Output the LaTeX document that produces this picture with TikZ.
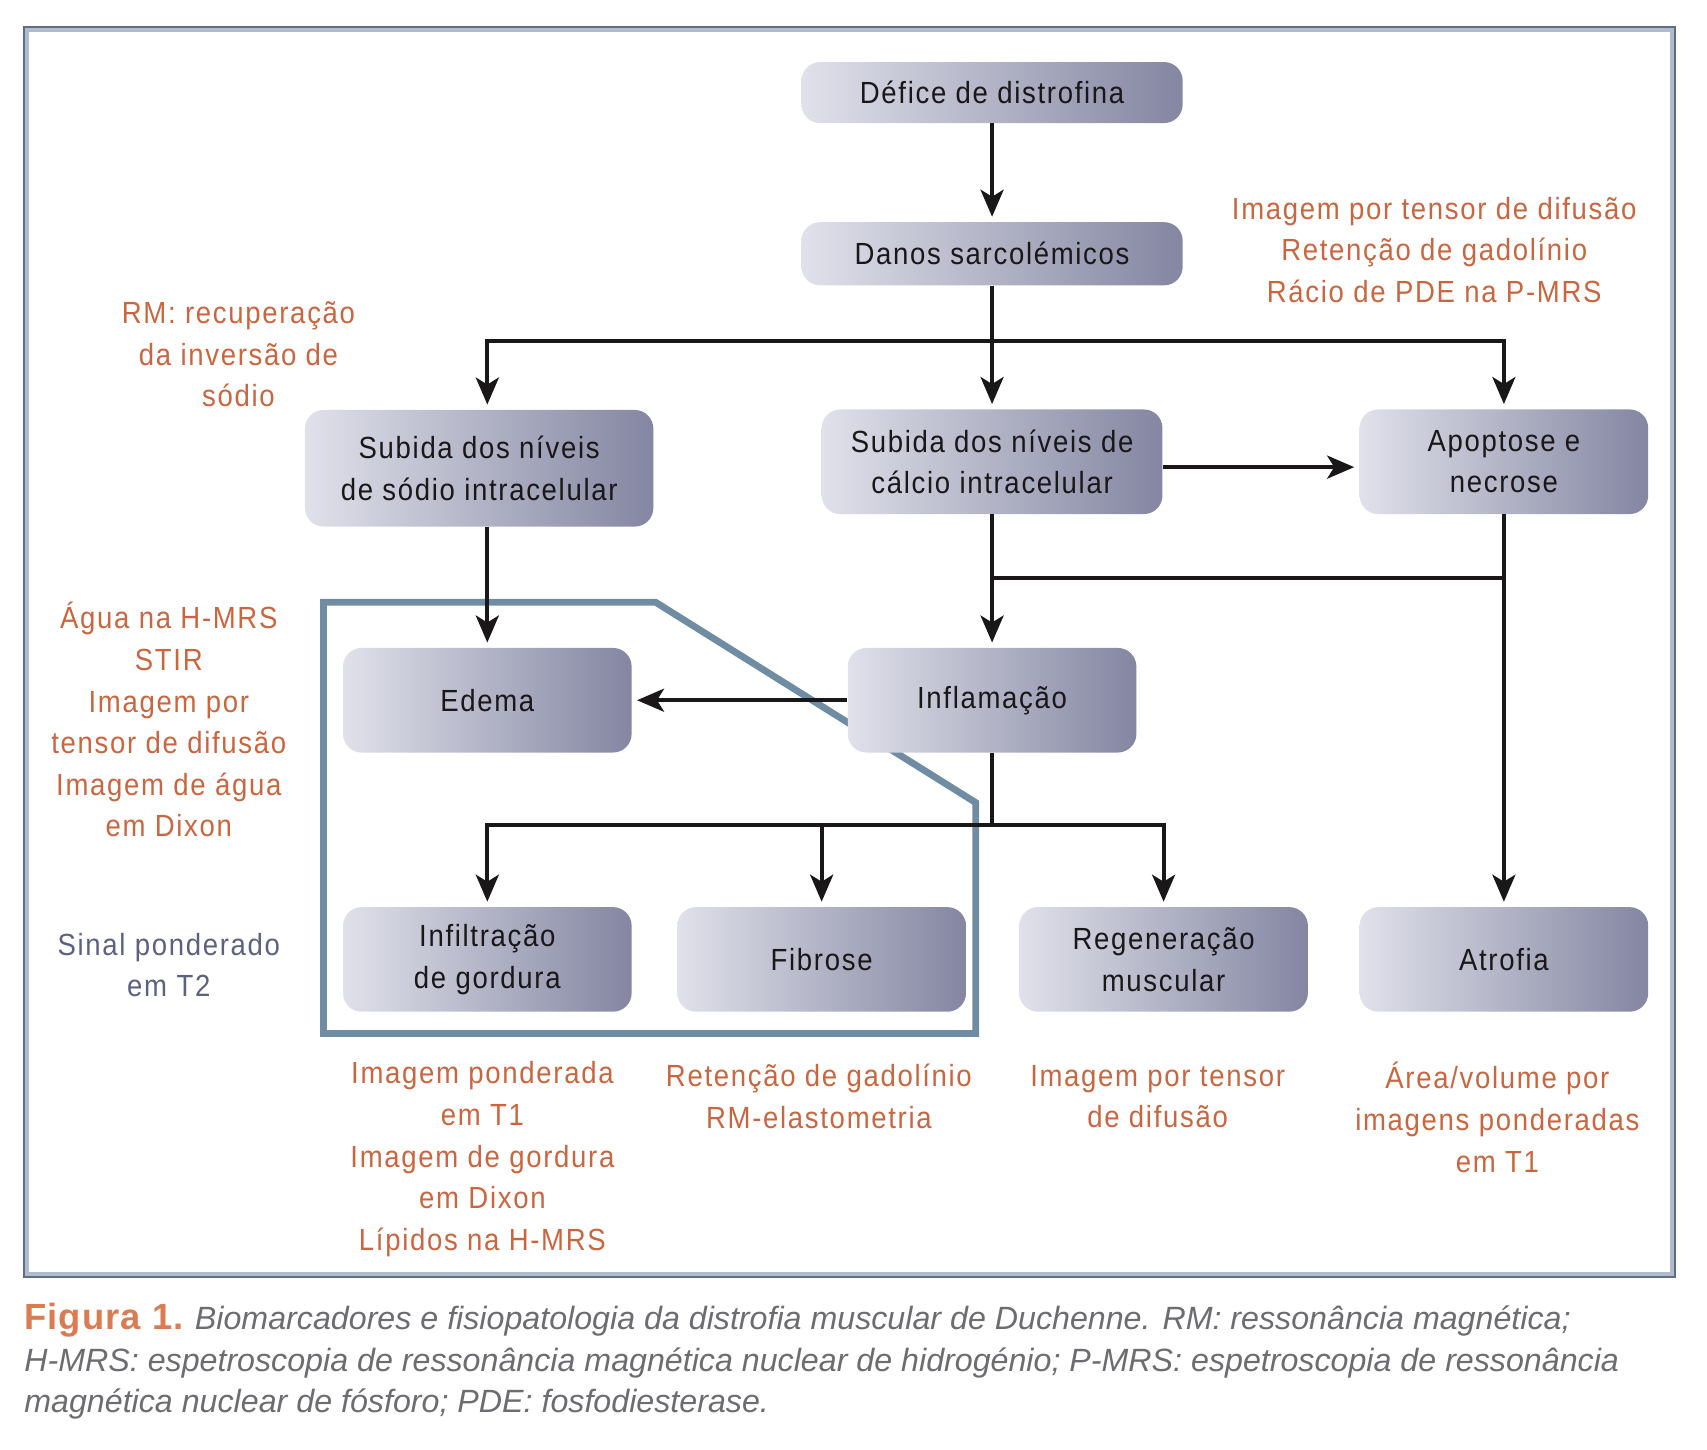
\documentclass[tikz,border=0pt]{standalone}
\usepackage{fontspec}
\setmainfont{Liberation Sans}[FakeStretch=0.9,LetterSpace=5.5]
\newfontfamily\capfont{Liberation Sans}
\usetikzlibrary{arrows.meta}
\definecolor{boxL}{RGB}{224,225,234}
\definecolor{boxR}{RGB}{132,134,162}
\definecolor{orng}{RGB}{201,102,63}
\definecolor{slate}{RGB}{91,97,128}
\definecolor{steel}{RGB}{111,140,163}
\definecolor{ink}{RGB}{26,23,24}
\definecolor{capgray}{RGB}{108,108,113}
\definecolor{figor}{RGB}{219,123,82}
\definecolor{frameD}{RGB}{95,110,133}
\definecolor{frameL}{RGB}{176,188,204}
\begin{document}
\begin{tikzpicture}[x=0.5445pt,y=-0.5445pt,
  box/.style={rounded corners=9.3pt, inner sep=0pt, left color=boxL, right color=boxR,
    align=center, text=ink, font=\fontsize{15.3}{20.8}\selectfont,
    minimum width=144.3pt, minimum height=52.3pt},
  lab/.style={align=center, text=orng, font=\fontsize{15.3}{20.8}\selectfont, inner sep=0pt},
  arr/.style={draw=ink, line width=2pt, -{Stealth[length=13.5pt,width=11.5pt,inset=3.5pt]}, shorten >=2.5pt},
  ln/.style={draw=ink, line width=2pt},
  capline/.style={anchor=base west, inner sep=0pt, text=capgray, font=\capfont\fontsize{16.1}{20}\selectfont\itshape}]
\useasboundingbox (0,0) rectangle (1567.5,1330.6);
% frame
\draw[frameL, line width=2pt] (24.5,27.5) rectangle (1535.5,1170);
\draw[frameD, line width=0.8pt] (22,25) rectangle (1538,1172.5);

% blue enclosure
\draw[steel, line width=3.4pt, line join=miter] (297,553) -- (602,553) -- (896,737) -- (896,949) -- (297,949) -- cycle;

% boxes
\node[box, minimum width=190.6pt, minimum height=30.5pt] (defice) at (911,85) {Défice de distrofina};
\node[box, minimum width=190.6pt, minimum height=31.6pt] (danos) at (911,233) {Danos sarcolémicos};
\node[box, minimum width=174.2pt, minimum height=58.3pt] (sodio) at (440,430) {Subida dos níveis\\de sódio intracelular};
\node[box, minimum width=170.4pt] (calcio) at (911,424) {Subida dos níveis de\\cálcio intracelular};
\node[box] (apop) at (1381,424) {Apoptose e\\necrose};
\node[box] (edema) at (447.5,643) {Edema};
\node[box] (infl) at (911,643) {Inflamação};
\node[box] (infil) at (447.5,881) {Infiltração\\de gordura};
\node[box] (fibrose) at (754.5,881) {Fibrose};
\node[box] (regen) at (1068.5,881) {Regeneração\\muscular};
\node[box] (atrofia) at (1381,881) {Atrofia};

% connectors
\coordinate (sp) at (911,313);
\coordinate (j2) at (911,531);
\coordinate (j3) at (911,758);
\coordinate (ce) at ([yshift=-2.7pt]calcio.east);
\draw[arr] (defice) -- (danos);
\draw[arr] (danos) -- (calcio);
\draw[arr] (sp) -| (edema.north |- sodio.north);
\draw[arr] (sp) -| (apop.north);
\draw[arr] (ce) -- (ce -| apop.west);
\draw[arr] (calcio) -- (infl);
\draw[ln] (apop.south) |- (j2);
\draw[arr] (apop) -- (atrofia);
\draw[arr] (edema.north |- sodio.south) -- (edema.north);
\draw[arr] (infl) -- (edema);
\draw[ln] (infl.south) -- (j3);
\draw[arr] (j3) -| (infil.north);
\draw[arr] (j3) -| (regen.north);
\draw[arr] (fibrose.north |- j3) -- (fibrose.north);

% labels
\node[lab] (l1) at (1317,229.5) {Imagem por tensor de difusão\\Retenção de gadolínio\\Rácio de PDE na P-MRS};
\node[lab] (l2) at (219,325.5) {RM: recuperação\\da inversão de\\sódio};
\node[lab] (l3) at (155,661) {Água na H-MRS\\STIR\\Imagem por\\tensor de difusão\\Imagem de água\\em Dixon};
\node[lab, text=slate] (l4) at (155,886) {Sinal ponderado\\em T2};
\node[lab] (l5) at (443,1064.5) {Imagem ponderada\\em T1\\Imagem de gordura\\em Dixon\\Lípidos na H-MRS};
\node[lab] (l6) at (752,1007) {Retenção de gadolínio\\RM-elastometria};
\node[lab] (l7) at (1063,1007) {Imagem por tensor\\de difusão};
\node[lab] (l8) at (1375,1026) {Área/volume por\\imagens ponderadas\\em T1};

% caption
\node[capline] (c1) at (22,1221) {{\upshape\bfseries\fontsize{18.2}{20}\selectfont\addfontfeature{LetterSpace=3}\color{figor}Figura 1.}\hspace{0.35em}Biomarcadores e fisiopatologia da distrofia muscular de Duchenne. RM: ressonância magnética;};
\node[capline] (c2) at (22,1259) {H-MRS: espetroscopia de ressonância magnética nuclear de hidrogénio; P-MRS: espetroscopia de ressonância};
\node[capline] (c3) at (22,1297) {magnética nuclear de fósforo; PDE: fosfodiesterase.};
\end{tikzpicture}
\end{document}
